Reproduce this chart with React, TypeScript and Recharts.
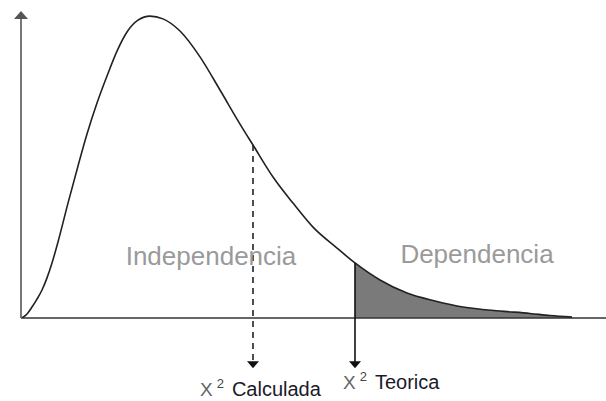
import { ComposedChart, Line, Area, XAxis, YAxis, ReferenceLine, ReferenceDot } from "recharts";

// curve (x along the axis, y as % of height)
const xs = [1, 6, 11, 16, 21, 26, 31, 37, 47, 57, 66, 76, 86, 96, 106, 117, 129, 142, 159, 179, 199, 219, 232, 252, 272, 292, 316, 334, 359, 386, 414, 442, 479, 509, 529, 551];
const ys = [0, 1.3, 3.6, 6.2, 9.2, 13.2, 18.1, 25.0, 37.8, 50.0, 60.5, 70.7, 79.6, 87.8, 94.1, 98.0, 99.3, 98.4, 94.4, 85.9, 75.0, 63.8, 56.9, 46.4, 37.8, 29.9, 23.0, 18.1, 12.5, 8.2, 5.6, 3.6, 2.3, 1.5, 0.8, 0.3];

const xMax = 585;
const calcX = 232;
const calcY = 56.9;
const teoX = 334;
const teoY = 18.1;
const arrowEnd = -16.5;

const regionLabels = ["Independencia", "Dependencia"];
const regionX = [190, 456];
const regionY = [17.5, 18.2];
const markLabels = ["Calculada", "Teorica"];

const data = xs.map((x, i) => ({ x, y: ys[i], tail: x >= teoX ? ys[i] : null }));

const ArrowDown = (p: any) => (
  <path d={`M${p.cx - 6},${p.cy - 7} L${p.cx + 6},${p.cy - 7} L${p.cx},${p.cy} Z`} fill="#111" />
);
const ArrowUp = (p: any) => (
  <path d={`M${p.cx - 7},${p.cy + 5} L${p.cx + 7},${p.cy + 5} L${p.cx},${p.cy - 3} Z`} fill="#555" />
);

const RegionText = (label: string) => (p: any) => (
  <text x={p.cx} y={p.cy} textAnchor="middle" fontFamily="Liberation Sans, Arial, sans-serif" fontSize={26} fill="#9a9a9a">
    {label}
  </text>
);

const MarkText = (label: string) => (p: any) => (
  <text x={p.cx} y={p.cy} fontFamily="Liberation Sans, Arial, sans-serif">
    <tspan fontSize={19} fill="#666">X</tspan>
    <tspan fontSize={13} fill="#444" dx={4} dy={-8}>2</tspan>
    <tspan fontSize={20} fill="#1a1a2a" dx={8} dy={8}>{label}</tspan>
  </text>
);

export default function App() {
  return (
    <div style={{ position: "absolute", left: 0, top: 0, background: "#fff" }}>
      <ComposedChart width={606} height={401} data={data} margin={{ top: 14, right: 0, bottom: 83, left: 21 }}>
        <XAxis dataKey="x" type="number" domain={[0, xMax]} hide />
        <YAxis type="number" domain={[0, 100]} hide allowDataOverflow />
        <Area dataKey="tail" type="monotone" fill="#7a7a7a" fillOpacity={1} stroke="none" isAnimationActive={false} connectNulls={false} />
        <ReferenceLine segment={[{ x: 0, y: 0 }, { x: xMax, y: 0 }]} stroke="#333" strokeWidth={1.5} ifOverflow="visible" />
        <ReferenceLine segment={[{ x: 0, y: 0 }, { x: 0, y: 99 }]} stroke="#777" strokeWidth={2} ifOverflow="visible" />
        <Line dataKey="y" type="monotone" stroke="#222" strokeWidth={1.6} dot={false} isAnimationActive={false} />
        <ReferenceLine segment={[{ x: calcX, y: calcY }, { x: calcX, y: arrowEnd + 2 }]} stroke="#222" strokeWidth={1.6} strokeDasharray="6 5" ifOverflow="visible" />
        <ReferenceLine segment={[{ x: teoX, y: teoY }, { x: teoX, y: arrowEnd + 2 }]} stroke="#111" strokeWidth={1.6} ifOverflow="visible" />
        <ReferenceDot x={calcX} y={arrowEnd} ifOverflow="visible" shape={ArrowDown} />
        <ReferenceDot x={teoX} y={arrowEnd} ifOverflow="visible" shape={ArrowDown} />
        <ReferenceDot x={0} y={100} ifOverflow="visible" shape={ArrowUp} />
        <ReferenceDot x={regionX[0]} y={regionY[0]} ifOverflow="visible" shape={RegionText(regionLabels[0])} />
        <ReferenceDot x={regionX[1]} y={regionY[1]} ifOverflow="visible" shape={RegionText(regionLabels[1])} />
        <ReferenceDot x={179} y={-25.5} ifOverflow="visible" shape={MarkText(markLabels[0])} />
        <ReferenceDot x={322} y={-23.5} ifOverflow="visible" shape={MarkText(markLabels[1])} />
      </ComposedChart>
    </div>
  );
}
